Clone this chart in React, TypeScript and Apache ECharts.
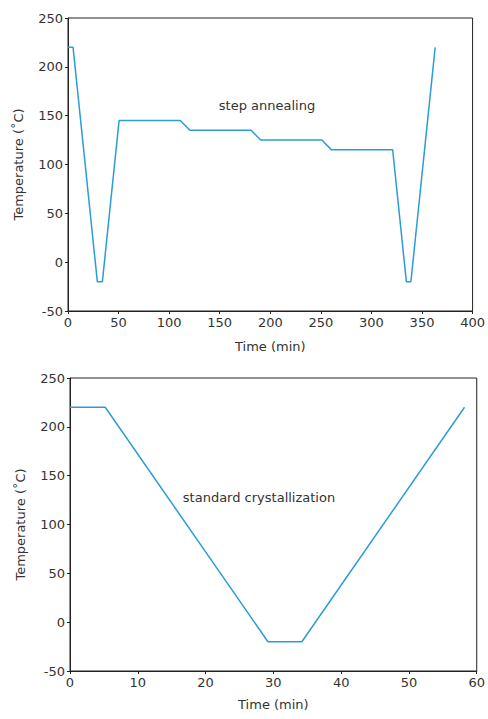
import React, { useEffect, useRef } from "react";
import * as echarts from "echarts";

// Step annealing program (time in min, temperature in °C)
const annealTime = [0, 5, 29, 34, 50.5, 111, 120.5, 181, 190.5, 251, 260.5, 321, 334.5, 339, 363];
const annealTemp = [220, 220, -20, -20, 145, 145, 135, 135, 125, 125, 115, 115, -20, -20, 220];

// Standard crystallization program
const stdTime = [0, 5.2, 29.2, 34.2, 58.2];
const stdTemp = [220, 220, -20, -20, 220];

const yTicks = { min: -50, max: 250, interval: 50 };
const xTop = { min: 0, max: 400, interval: 50 };
const xBottom = { min: 0, max: 60, interval: 10 };

const xLabel = "Time (min)";
const yLabel = "Temperature (˚C)";
const annealLabel = "step annealing";
const stdLabel = "standard crystallization";

const FONT = "DejaVu Sans";
const TEXT = "#333333";
const AXIS = "#222222";
const LINE = "#2a9dd8";

export default function App() {
  const ref = useRef<HTMLDivElement>(null);
  useEffect(() => {
    if (!ref.current) return;
    const chart = echarts.init(ref.current, undefined, { renderer: "svg" });
    const axisCommon = {
      axisLine: { show: true, onZero: false, lineStyle: { color: AXIS, width: 1 } },
      axisTick: { show: true, length: 3, lineStyle: { color: AXIS } },
      splitLine: { show: false },
      axisLabel: { color: TEXT, fontSize: 13, fontFamily: FONT, margin: 5 },
      nameTextStyle: { color: TEXT, fontSize: 13, fontFamily: FONT },
      nameLocation: "middle" as const,
    };
    const mk = (t: number[], v: number[]) => t.map((x, i) => [x, v[i]]);
    chart.setOption({
      animation: false,
      grid: [
        { left: 68, top: 18, width: 410, height: 293, show: true, borderColor: AXIS, borderWidth: 1, backgroundColor: "transparent" },
        { left: 70, top: 378, width: 409, height: 293, show: true, borderColor: AXIS, borderWidth: 1, backgroundColor: "transparent" },
      ],
      xAxis: [
        { ...axisCommon, type: "value", gridIndex: 0, ...xTop, name: xLabel, nameGap: 29 },
        { ...axisCommon, type: "value", gridIndex: 1, ...xBottom, name: xLabel, nameGap: 27 },
      ],
      yAxis: [
        { ...axisCommon, type: "value", gridIndex: 0, ...yTicks, name: yLabel, nameGap: 43 },
        { ...axisCommon, type: "value", gridIndex: 1, ...yTicks, name: yLabel, nameGap: 43 },
      ],
      series: [
        { type: "line", xAxisIndex: 0, yAxisIndex: 0, data: mk(annealTime, annealTemp), showSymbol: false, lineStyle: { color: LINE, width: 1.5 } },
        { type: "line", xAxisIndex: 1, yAxisIndex: 1, data: mk(stdTime, stdTemp), showSymbol: false, lineStyle: { color: LINE, width: 1.5 } },
      ],
      graphic: [
        { type: "text", x: 267, y: 105, style: { text: annealLabel, fill: TEXT, fontSize: 13, fontFamily: FONT, align: "center", verticalAlign: "middle" } },
        { type: "text", x: 259, y: 497, style: { text: stdLabel, fill: TEXT, fontSize: 13, fontFamily: FONT, align: "center", verticalAlign: "middle" } },
      ],
    });
    return () => chart.dispose();
  }, []);
  return <div ref={ref} style={{ position: "fixed", left: 0, top: 0, width: 488, height: 719, background: "#fff" }} />;
}
